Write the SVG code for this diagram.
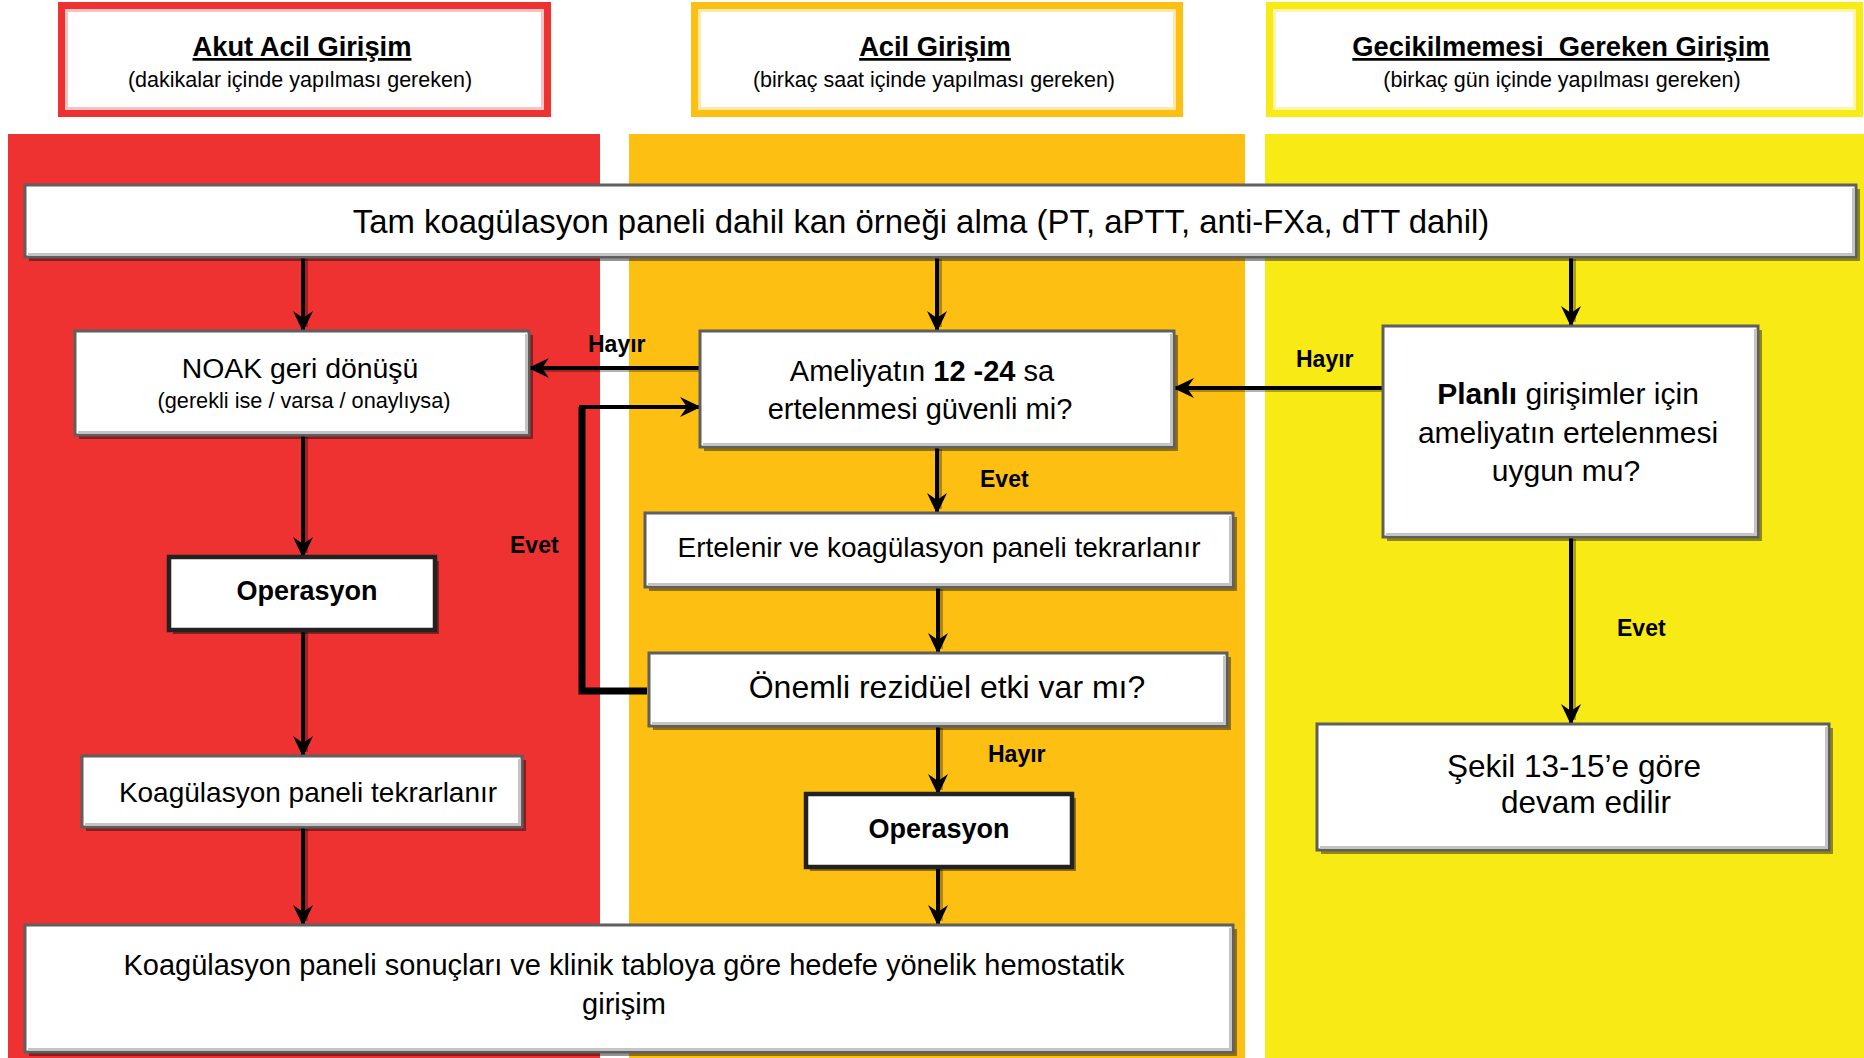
<svg xmlns="http://www.w3.org/2000/svg" width="1864" height="1058" viewBox="0 0 1864 1058">
<defs>
<style>
.t{font-family:"Liberation Sans",Arial,sans-serif;fill:#000}
.b{font-weight:bold}
.u{text-decoration:underline}
.sh{fill:#000;opacity:.42}
.bx{fill:#fff;stroke:#5f5f5f;stroke-width:3}
.op{fill:#fff;stroke:#222;stroke-width:4.5}
.hl{fill:none;stroke:#c4c4c4;stroke-width:3}
.c{stroke:#000;stroke-width:4;fill:none}
.cs{stroke:#000;stroke-opacity:.3;stroke-width:4;fill:none}
.lbl{font-family:"Liberation Sans",Arial,sans-serif;font-weight:bold;font-size:23px;fill:#000}
</style>
<marker id="ah" markerUnits="userSpaceOnUse" markerWidth="24" markerHeight="22" refX="21" refY="11" orient="auto">
<path d="M1,1 L22,11 L1,21 L8,11 Z" fill="#000"/>
</marker>
</defs>
<rect width="1864" height="1058" fill="#fff"/>
<g id="columns">
<rect x="8" y="134" width="592" height="924" fill="#EE3232"/>
<rect x="629" y="134" width="616" height="924" fill="#FDC012"/>
<rect x="1265" y="134" width="599" height="924" fill="#F7EA15"/>
</g>
<g id="header-akut">
<rect x="61.5" y="5.5" width="486" height="108" fill="#fff" stroke="#EE3232" stroke-width="7"/>
<rect x="66.5" y="10.5" width="476" height="98" fill="none" stroke="#F9C2C2" stroke-width="3"/>
<text class="t b u" x="302" y="56" font-size="27.3" text-anchor="middle">Akut Acil Girişim</text>
<text class="t" x="300" y="87" font-size="21.5" text-anchor="middle">(dakikalar içinde yapılması gereken)</text>
</g>
<g id="header-acil">
<rect x="694.5" y="5.5" width="485" height="108" fill="#fff" stroke="#FDC012" stroke-width="7"/>
<rect x="699.5" y="10.5" width="475" height="98" fill="none" stroke="#FFE9A6" stroke-width="3"/>
<text class="t b u" x="935" y="56" font-size="27.3" text-anchor="middle">Acil Girişim</text>
<text class="t" x="934" y="87" font-size="21.5" text-anchor="middle">(birkaç saat içinde yapılması gereken)</text>
</g>
<g id="header-gecik">
<rect x="1269.5" y="5.5" width="590" height="108" fill="#fff" stroke="#F7EA15" stroke-width="7"/>
<rect x="1274.5" y="10.5" width="580" height="98" fill="none" stroke="#FCF6A6" stroke-width="3"/>
<text class="t b u" x="1561" y="56" font-size="27.3" text-anchor="middle" xml:space="preserve">Gecikilmemesi  Gereken Girişim</text>
<text class="t" x="1562" y="87" font-size="21.5" text-anchor="middle">(birkaç gün içinde yapılması gereken)</text>
</g>
<g id="connectors">
<g class="shadows" transform="translate(3,2)">
<line class="cs" x1="303" y1="257" x2="303" y2="325"/>
<line class="cs" x1="937" y1="257" x2="937" y2="325"/>
<line class="cs" x1="1571" y1="257" x2="1571" y2="320"/>
<line class="cs" x1="303" y1="435" x2="303" y2="551"/>
<line class="cs" x1="303" y1="630" x2="303" y2="750"/>
<line class="cs" x1="303" y1="827" x2="303" y2="919"/>
<line class="cs" x1="937" y1="447" x2="937" y2="507"/>
<line class="cs" x1="938" y1="587" x2="938" y2="647"/>
<line class="cs" x1="938" y1="726" x2="938" y2="788"/>
<line class="cs" x1="938" y1="867" x2="938" y2="919"/>
<line class="cs" x1="1571" y1="537" x2="1571" y2="718"/>
<line class="cs" x1="700" y1="368" x2="535" y2="368"/>
<line class="cs" x1="1383" y1="388" x2="1180" y2="388"/>
</g>
<line class="c" x1="303" y1="257" x2="303" y2="331" marker-end="url(#ah)"/>
<line class="c" x1="937" y1="257" x2="937" y2="331" marker-end="url(#ah)"/>
<line class="c" x1="1571" y1="257" x2="1571" y2="326" marker-end="url(#ah)"/>
<line class="c" x1="303" y1="435" x2="303" y2="557" marker-end="url(#ah)"/>
<line class="c" x1="303" y1="630" x2="303" y2="756" marker-end="url(#ah)"/>
<line class="c" x1="303" y1="827" x2="303" y2="925" marker-end="url(#ah)"/>
<line class="c" x1="937" y1="447" x2="937" y2="513" marker-end="url(#ah)"/>
<line class="c" x1="938" y1="587" x2="938" y2="653" marker-end="url(#ah)"/>
<line class="c" x1="938" y1="726" x2="938" y2="794" marker-end="url(#ah)"/>
<line class="c" x1="938" y1="867" x2="938" y2="925" marker-end="url(#ah)"/>
<line class="c" x1="1571" y1="537" x2="1571" y2="724" marker-end="url(#ah)"/>
<line class="c" x1="700" y1="368" x2="529" y2="368" marker-end="url(#ah)"/>
<line class="c" x1="1383" y1="388" x2="1174" y2="388" marker-end="url(#ah)"/>
<path d="M647,691 H582 V407" stroke="#000" stroke-width="7" fill="none"/>
<line class="c" x1="579" y1="407" x2="700" y2="407" marker-end="url(#ah)"/>
<text class="lbl" x="588" y="352">Hayır</text>
<text class="lbl" x="510" y="553">Evet</text>
<text class="lbl" x="980" y="487">Evet</text>
<text class="lbl" x="988" y="762">Hayır</text>
<text class="lbl" x="1296" y="367">Hayır</text>
<text class="lbl" x="1617" y="636">Evet</text>
</g>
<g id="node-tam">
<rect class="sh" x="29" y="189" width="1831" height="72"/>
<rect class="bx" x="25" y="185" width="1831" height="72"/>
<path class="hl" d="M1853.5,188 V254.5 H28"/>
<text class="t" x="921" y="233" font-size="32.9" text-anchor="middle">Tam koagülasyon paneli dahil kan örneği alma (PT, aPTT, anti-FXa, dTT dahil)</text>
</g>
<g id="node-noak">
<rect class="sh" x="79" y="335" width="454" height="104"/>
<rect class="bx" x="75" y="331" width="454" height="104"/>
<path class="hl" d="M526.5,334 V432.5 H78"/>
<text class="t" x="300" y="378" font-size="28.4" text-anchor="middle">NOAK geri dönüşü</text>
<text class="t" x="304" y="408" font-size="21.7" text-anchor="middle">(gerekli ise / varsa / onaylıysa)</text>
</g>
<g id="node-op-left">
<rect class="sh" x="173" y="561" width="266" height="73"/>
<rect class="op" x="169" y="557" width="266" height="73"/>
<text class="t b" x="307" y="600" font-size="27" text-anchor="middle">Operasyon</text>
</g>
<g id="node-koag">
<rect class="sh" x="86" y="760" width="440" height="71"/>
<rect class="bx" x="82" y="756" width="440" height="71"/>
<path class="hl" d="M519.5,759 V824.5 H85"/>
<text class="t" x="308" y="802" font-size="28" text-anchor="middle">Koagülasyon paneli tekrarlanır</text>
</g>
<g id="node-bottom">
<rect class="sh" x="29" y="929" width="1208" height="127"/>
<rect class="bx" x="25" y="925" width="1208" height="127"/>
<path class="hl" d="M1230.5,928 V1049.5 H28"/>
<text class="t" x="624" y="975" font-size="29" text-anchor="middle">Koagülasyon paneli sonuçları ve klinik tabloya göre hedefe yönelik hemostatik</text>
<text class="t" x="624" y="1014" font-size="29" text-anchor="middle">girişim</text>
</g>
<g id="node-ameliyat">
<rect class="sh" x="704" y="335" width="474" height="116"/>
<rect class="bx" x="700" y="331" width="474" height="116"/>
<path class="hl" d="M1171.5,334 V444.5 H703"/>
<text class="t" x="922" y="381" font-size="29" text-anchor="middle">Ameliyatın <tspan font-weight="bold">12 -24</tspan> sa</text>
<text class="t" x="920" y="419" font-size="29" text-anchor="middle">ertelenmesi güvenli mi?</text>
</g>
<g id="node-ertelenir">
<rect class="sh" x="649" y="517" width="588" height="74"/>
<rect class="bx" x="645" y="513" width="588" height="74"/>
<path class="hl" d="M1230.5,516 V584.5 H648"/>
<text class="t" x="939" y="557" font-size="28" text-anchor="middle">Ertelenir ve koagülasyon paneli tekrarlanır</text>
</g>
<g id="node-onemli">
<rect class="sh" x="653" y="657" width="578" height="73"/>
<rect class="bx" x="649" y="653" width="578" height="73"/>
<path class="hl" d="M1224.5,656 V723.5 H652"/>
<text class="t" x="947" y="698" font-size="32" text-anchor="middle">Önemli rezidüel etki var mı?</text>
</g>
<g id="node-op-mid">
<rect class="sh" x="810" y="798" width="266" height="73"/>
<rect class="op" x="806" y="794" width="266" height="73"/>
<text class="t b" x="939" y="838" font-size="27" text-anchor="middle">Operasyon</text>
</g>
<g id="node-planli">
<rect class="sh" x="1387" y="330" width="375" height="211"/>
<rect class="bx" x="1383" y="326" width="375" height="211"/>
<path class="hl" d="M1755.5,329 V534.5 H1386"/>
<text class="t" x="1568" y="404" font-size="30" text-anchor="middle"><tspan font-weight="bold">Planlı</tspan> girişimler için</text>
<text class="t" x="1568" y="443" font-size="30" text-anchor="middle">ameliyatın ertelenmesi</text>
<text class="t" x="1566" y="481" font-size="30" text-anchor="middle">uygun mu?</text>
</g>
<g id="node-sekil">
<rect class="sh" x="1321" y="728" width="512" height="126"/>
<rect class="bx" x="1317" y="724" width="512" height="126"/>
<path class="hl" d="M1826.5,727 V847.5 H1320"/>
<text class="t" x="1574" y="777" font-size="31.5" text-anchor="middle">Şekil 13-15’e göre</text>
<text class="t" x="1586" y="813" font-size="31.5" text-anchor="middle">devam edilir</text>
</g>
</svg>
